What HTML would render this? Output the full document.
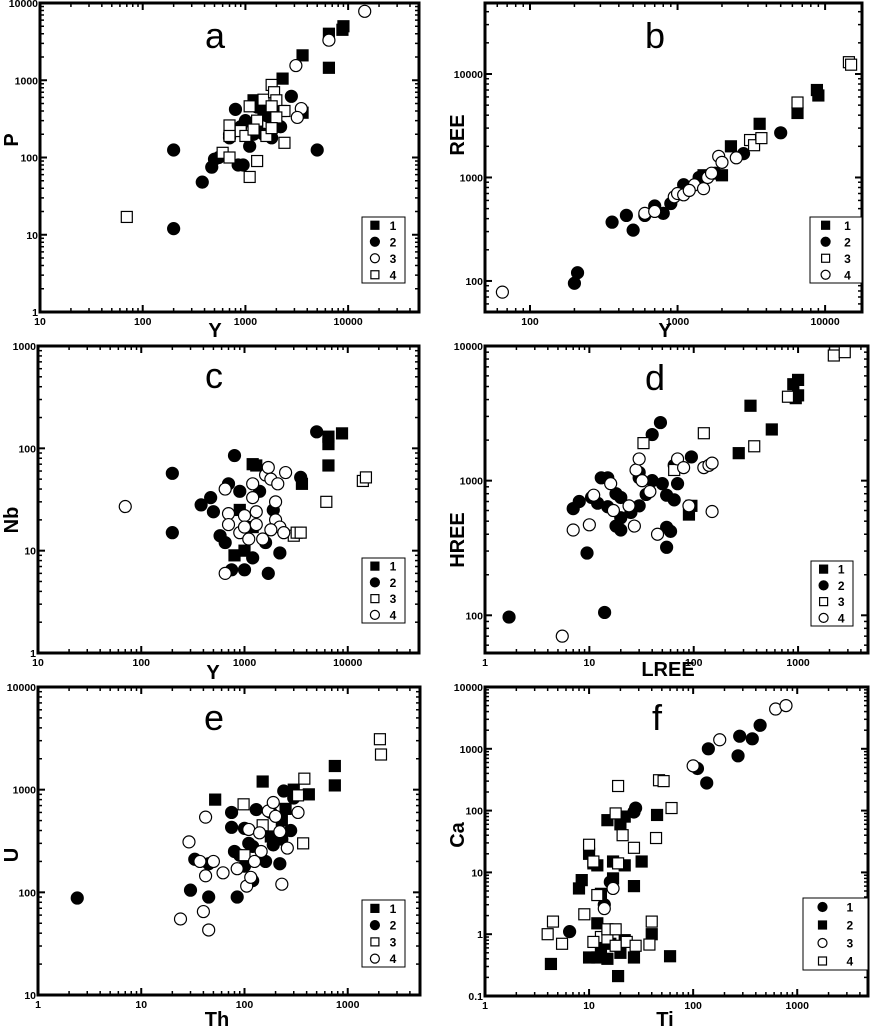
<!DOCTYPE html>
<html><head><meta charset="utf-8"><style>
body{margin:0;background:#fff;}
svg{display:block;font-family:"Liberation Sans",sans-serif;}
</style></head><body>
<svg id="chart" width="870" height="1030" viewBox="0 0 870 1030"></svg>
<script>
// ---- panel a: P vs Y ----
const a_s1_x=[6500,8800,9000,3600,6500,2300,1200,1500,1800,1300,2200,3600];
const a_s1_y=[4000,4500,5000,2100,1450,1050,550,400,300,250,400,380];
const a_s2_x=[200,200,380,470,500,550,850,950,800,700,900,1000,1100,1200,1500,1800,2200,2800,5000,1600,1300];
const a_s2_y=[125,12,48,75,95,100,80,80,420,180,250,300,140,200,200,180,250,620,125,350,450];
const a_s3_x=[14500,6500,3100,3500,3200,700];
const a_s3_y=[7800,3300,1550,430,330,200];
const a_s4_x=[70,600,700,1100,1300,2400,700,900,1000,1100,1300,1200,1500,1800,1900,2000,1800,2400,2000,1600,1800,700];
const a_s4_y=[17,115,100,56,90,155,260,220,190,460,300,230,560,870,700,550,460,400,330,190,240,190];
// ---- panel b: REE vs Y ----
const b_s1_x=[2300,3600,6500,8800,9000,2000,1500];
const b_s1_y=[2000,3300,4200,7000,6200,1050,1050];
const b_s2_x=[200,210,360,450,500,700,800,900,1100,1400,2800,5000,1800,600];
const b_s2_y=[95,120,370,430,310,530,450,560,850,1000,1700,2700,1100,430];
const b_s3_x=[3100,3300,3700,6500,14500,15000];
const b_s3_y=[2300,2050,2400,5300,13000,12300];
const b_s4_x=[65,600,700,950,1000,1100,1300,1500,1600,1700,1900,2000,2500,1200];
const b_s4_y=[78,450,470,650,700,680,850,780,1000,1100,1600,1400,1550,750];
// ---- panel c: Nb vs Y ----
const c_s1_x=[6500,6500,8800,6500,3600,1200,1300,800,1000,900,1200];
const c_s1_y=[130,110,140,68,45,70,68,9,10,25,17];
const c_s2_x=[200,200,380,470,500,580,650,750,1000,1200,1700,2200,800,700,900,1400,3500,5000,1900,1600];
const c_s2_y=[57,15,28,33,24,14,12,6.5,6.5,8.5,6,9.5,85,45,38,38,52,145,25,12];
const c_s3_x=[3000,3200,6200,14000,15000,3500];
const c_s3_y=[14,15,30,48,52,15];
const c_s4_x=[70,650,650,700,700,900,1000,1000,1100,1200,1200,1300,1300,1500,1600,1700,1800,2000,2000,2100,2200,2500,2400,1800];
const c_s4_y=[27,6,40,23,18,15,22,17,13,33,45,24,18,13,55,65,50,30,20,45,17,58,15,16];
// ---- panel d: HREE vs LREE ----
const d_s1_x=[90,95,270,350,560,900,1000,1000,950];
const d_s1_y=[560,650,1600,3600,2400,5200,5600,4300,4100];
const d_s2_x=[1.7,14,9.5,7,8,10.5,12,13,15,15,18,18,20,20,25,30,30,35,40,40,48,50,55,55,60,55,65,70,65,95,20,30];
const d_s2_y=[97,105,290,620,700,750,680,1050,1050,640,800,460,530,430,580,1150,650,790,1000,2200,2700,950,780,450,420,320,1300,950,720,1500,750,1050];
const d_s3_x=[33,125,380,800,2200,2800,65];
const d_s3_y=[1900,2250,1800,4200,8500,9000,1200];
const d_s4_x=[5.5,7,10,11,16,17,24,27,28,30,32,38,45,70,80,90,125,140,150,150];
const d_s4_y=[70,430,470,780,950,600,650,460,1200,1450,1000,830,400,1450,1250,650,1250,1300,1350,590];
// ---- panel e: U vs Th ----
const e_s1_x=[52,150,300,420,750,750,250,180,230];
const e_s1_y=[800,1200,1000,900,1700,1100,650,350,500];
const e_s2_x=[2.4,30,33,45,45,85,75,75,80,90,100,100,110,120,130,120,160,190,220,240,280,230,300,180];
const e_s2_y=[88,105,210,90,190,90,600,430,250,230,180,420,300,280,640,130,200,290,190,970,400,330,830,600];
const e_s3_x=[98,380,330,370,2050,2100,150,100];
const e_s3_y=[720,1280,880,300,3100,2200,450,230];
const e_s4_x=[24,29,37,40,42,42,45,50,62,85,105,110,115,125,140,145,170,190,200,220,230,260,330];
const e_s4_y=[55,310,200,65,145,540,43,200,155,170,115,410,140,200,380,250,620,750,550,390,120,270,600];
// ---- panel f: Ca vs Ti ----
const f_s1_x=[6.5,28,27,110,135,140,270,280,370,440,14,16];
const f_s1_y=[1.1,110,95,480,280,1000,770,1600,1450,2400,3,7];
const f_s2_x=[4.3,8,8.5,10,11,12,13,15,17,17,20,22,22,32,27,45,19,10,12,15,20,27,60,40,13,16,12,22];
const f_s2_y=[0.33,5.5,7.5,20,14,13,4.5,70,15,8,60,80,13,15,6,85,0.21,0.42,0.42,0.4,0.5,0.42,0.44,1,0.6,0.7,1.5,0.8];
const f_s3_x=[17,14,100,180,620,780];
const f_s3_y=[5.5,2.6,530,1400,4400,5000];
const f_s4_x=[4,4.5,5.5,9,10,11,12,13,15,15,18,19,18,18,19,21,23,27,28,38,40,44,47,52,62,11];
const f_s4_y=[1,1.6,0.7,2.1,28,15,4.3,0.9,0.85,1.2,90,250,1.2,0.65,14,40,0.75,25,0.65,0.68,1.6,36,310,300,110,0.75];

const NS='http://www.w3.org/2000/svg';
const svg=document.getElementById('chart');
function mk(tag,attrs,parent){const e=document.createElementNS(NS,tag);for(const k in attrs)e.setAttribute(k,attrs[k]);(parent||svg).appendChild(e);return e;}

const panels=[
 {id:'a',box:[40,3,419,312],xl:1,xh:4.69,yl:0,yh:4,xt:[10,100,1000,10000],yt:[1,10,100,1000,10000],
  xt_title:'Y',yt_title:'P',xtp:[215,337],ytp:[12,140],lab:[215,48],leg:[362,217,405,283],
  kinds:['fsq','fci','oci','osq'],data:[[a_s1_x,a_s1_y],[a_s2_x,a_s2_y],[a_s3_x,a_s3_y],[a_s4_x,a_s4_y]]},
 {id:'b',box:[485,3,862,312],xl:1.695,xh:4.25,yl:1.7,yh:4.686,xt:[100,1000,10000],yt:[100,1000,10000],
  xt_title:'Y',yt_title:'REE',xtp:[665,337],ytp:[458,135],lab:[655,48],leg:[810,217,862,283],
  kinds:['fsq','fci','osq','oci'],data:[[b_s1_x,b_s1_y],[b_s2_x,b_s2_y],[b_s3_x,b_s3_y],[b_s4_x,b_s4_y]]},
 {id:'c',box:[38,346,419,653],xl:1,xh:4.69,yl:0,yh:3,xt:[10,100,1000,10000],yt:[1,10,100,1000],
  xt_title:'Y',yt_title:'Nb',xtp:[213,679],ytp:[12,520],lab:[214,388],leg:[362,558,405,623],
  kinds:['fsq','fci','osq','oci'],data:[[c_s1_x,c_s1_y],[c_s2_x,c_s2_y],[c_s3_x,c_s3_y],[c_s4_x,c_s4_y]]},
 {id:'d',box:[485,346,868,653],xl:0,xh:3.67,yl:1.72,yh:4,xt:[1,10,100,1000],yt:[100,1000,10000],
  xt_title:'LREE',yt_title:'HREE',xtp:[668,676],ytp:[458,540],lab:[655,390],leg:[811,561,853,626],
  kinds:['fsq','fci','osq','oci'],data:[[d_s1_x,d_s1_y],[d_s2_x,d_s2_y],[d_s3_x,d_s3_y],[d_s4_x,d_s4_y]]},
 {id:'e',box:[38,687,420,995],xl:0,xh:3.7,yl:1,yh:4,xt:[1,10,100,1000],yt:[10,100,1000,10000],
  xt_title:'Th',yt_title:'U',xtp:[217,1026],ytp:[12,855],lab:[214,730],leg:[362,900,405,967],
  kinds:['fsq','fci','osq','oci'],data:[[e_s1_x,e_s1_y],[e_s2_x,e_s2_y],[e_s3_x,e_s3_y],[e_s4_x,e_s4_y]]},
 {id:'f',box:[485,687,868,996],xl:0,xh:3.68,yl:-1,yh:4,xt:[1,10,100,1000],yt:[0.1,1,10,100,1000,10000],
  xt_title:'Ti',yt_title:'Ca',xtp:[665,1026],ytp:[458,835],lab:[657,730],leg:[803,898,868,970],
  kinds:['fci','fsq','oci','osq'],data:[[f_s1_x,f_s1_y],[f_s2_x,f_s2_y],[f_s3_x,f_s3_y],[f_s4_x,f_s4_y]]}
];

function sym(kind,cx,cy,g,r){
  r=r||6;
  let e;
  if(kind==='fsq'||kind==='osq'){
    e=mk('rect',{x:cx-r+0.5,y:cy-r+0.5,width:2*r-1,height:2*r-1,fill:kind==='fsq'?'#000':'#fff',stroke:'#000','stroke-width':1.2},g);
  }else{
    e=mk('circle',{cx:cx,cy:cy,r:r,fill:kind==='fci'?'#000':'#fff',stroke:'#000','stroke-width':1.2},g);
  }
  return e;
}
function fmt(v){return v<1?String(v):String(Math.round(v));}

panels.forEach(p=>{
  const [x0,y0,x1,y1]=p.box;
  const X=v=>x0+(Math.log10(v)-p.xl)/(p.xh-p.xl)*(x1-x0);
  const Y=v=>y1-(Math.log10(v)-p.yl)/(p.yh-p.yl)*(y1-y0);
  const g=mk('g',{});
  
  
  const tg=mk('g',{stroke:'#000'},g);
  
  
  for(let d=Math.floor(p.xl);d<=Math.ceil(p.xh);d++){
    for(let m=1;m<10;m++){
      const v=m*Math.pow(10,d);const lv=Math.log10(v);
      if(lv<p.xl-1e-6||lv>p.xh+1e-6)continue;
      const x=X(v);const L=m===1?7:4;const w=m===1?2:1.5;
      mk('line',{x1:x,y1:y1,x2:x,y2:y1-L,'stroke-width':w},tg);
      mk('line',{x1:x,y1:y0,x2:x,y2:y0+L,'stroke-width':w},tg);
    }
  }
  for(let d=Math.floor(p.yl);d<=Math.ceil(p.yh);d++){
    for(let m=1;m<10;m++){
      const v=m*Math.pow(10,d);const lv=Math.log10(v);
      if(lv<p.yl-1e-6||lv>p.yh+1e-6)continue;
      const y=Y(v);const L=m===1?7:4;const w=m===1?2:1.5;
      mk('line',{x1:x0,y1:y,x2:x0+L,y2:y,'stroke-width':w},tg);
      mk('line',{x1:x1,y1:y,x2:x1-L,y2:y,'stroke-width':w},tg);
    }
  }
  const fr=mk('rect',{x:x0,y:y0,width:x1-x0,height:y1-y0,fill:'none',stroke:'#000','stroke-width':3},g);
  
  
  p.xt.forEach(v=>{
    const t=mk('text',{x:X(v),y:y1+13,'font-size':10.5,'font-weight':'bold','text-anchor':'middle'},g);
    t.textContent=fmt(v);
    
    
  });
  p.yt.forEach(v=>{
    const t=mk('text',{x:x0-2,y:Y(v)+4,'font-size':10.5,'font-weight':'bold','text-anchor':'end'},g);
    t.textContent=fmt(v);
    
    
  });
  const xt=mk('text',{x:p.xtp[0],y:p.xtp[1],'font-size':20,'font-weight':'bold','text-anchor':'middle'},g);
  xt.textContent=p.xt_title;
  
  
  const yt=mk('text',{x:p.ytp[0],y:p.ytp[1],'font-size':20,'font-weight':'bold','text-anchor':'middle',transform:'rotate(-90 '+p.ytp[0]+' '+p.ytp[1]+')','dominant-baseline':'central'},g);
  yt.textContent=p.yt_title;
  
  
  const lb=mk('text',{x:p.lab[0],y:p.lab[1],'font-size':36,'text-anchor':'middle'},g);
  lb.textContent=p.id;
  
  
  p.data.forEach((s,i)=>{
    const sg=mk('g',{},g);
    
    
    s[0].forEach((xv,j)=>{
      const e=sym(p.kinds[i],X(xv),Y(s[1][j]),sg);
      
      
    });
  });
  const [lx0,ly0,lx1,ly1]=p.leg;
  const lg=mk('g',{},g);
  
  
  mk('rect',{x:lx0,y:ly0,width:lx1-lx0,height:ly1-ly0,fill:'#fff',stroke:'#000','stroke-width':1},lg);
  const step=(ly1-ly0)/4;
  p.kinds.forEach((k,i)=>{
    const cy=ly0+step*(i+0.5);
    const e=sym(k,lx0+(lx1-lx0)*0.3,cy,lg,4.5);
    
    
    const t=mk('text',{x:lx0+(lx1-lx0)*0.72,y:cy+4.5,'font-size':12,'font-weight':'bold','text-anchor':'middle'},lg);
    t.textContent=String(i+1);
    
    
  });
});
</script>
</body></html>
